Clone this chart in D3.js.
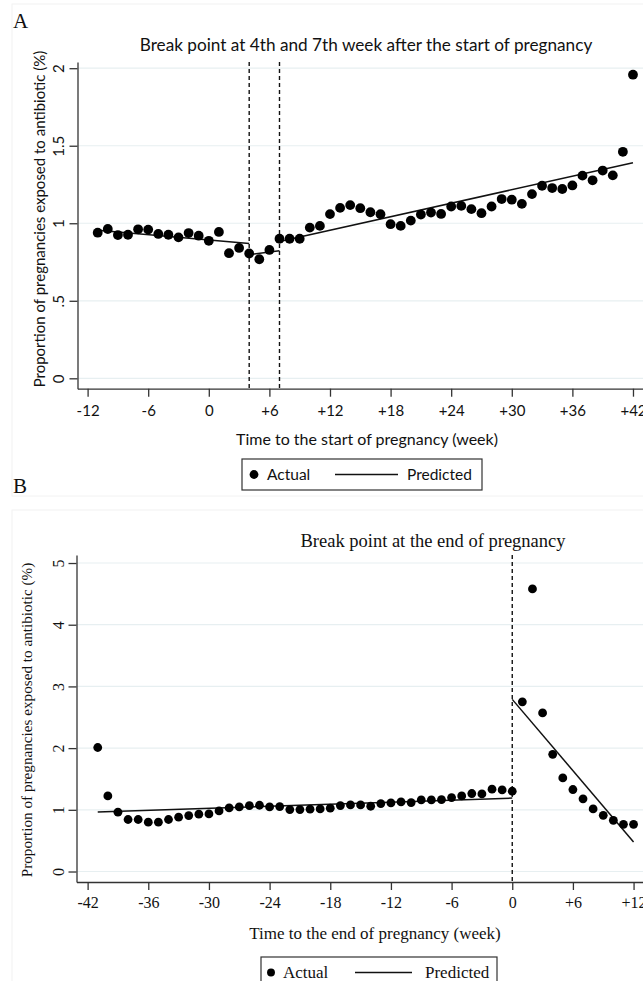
<!DOCTYPE html>
<html><head><meta charset="utf-8">
<script src="https://cdn.jsdelivr.net/npm/d3@7"></script>
<style>body{margin:0;background:#fff}svg{display:block}</style>
</head><body>
<svg id="c" width="643" height="981"></svg>
<script>
// ---------- Panel A data ----------
const weeksA = [-11,-10,-9,-8,-7,-6,-5,-4,-3,-2,-1,0,1,2,3,4,5,6,7,8,9,10,11,12,13,14,15,16,17,18,19,20,21,22,23,24,25,26,27,28,29,30,31,32,33,34,35,36,37,38,39,40,41,42];
const actualA = [0.939,0.963,0.924,0.926,0.961,0.959,0.931,0.926,0.909,0.937,0.920,0.887,0.944,0.807,0.841,0.805,0.768,0.828,0.900,0.900,0.900,0.972,0.983,1.059,1.099,1.117,1.097,1.071,1.058,0.994,0.983,1.017,1.056,1.069,1.060,1.108,1.112,1.091,1.065,1.108,1.156,1.152,1.125,1.188,1.242,1.227,1.221,1.244,1.307,1.277,1.340,1.309,1.461,1.958];
const predA = [
  [[-11,0.955],[4,0.870]],
  [[4,0.797],[7,0.823]],
  [[7,0.883],[42,1.39]]
];
const breaksA = [4,7];
const xTicksA = [-12,-6,0,6,12,18,24,30,36,42];
const yTicksA = [0,0.5,1,1.5,2];
const yTickLabelsA = ["0",".5","1","1.5","2"];

// ---------- Panel B data ----------
const weeksB = [-41,-40,-39,-38,-37,-36,-35,-34,-33,-32,-31,-30,-29,-28,-27,-26,-25,-24,-23,-22,-21,-20,-19,-18,-17,-16,-15,-14,-13,-12,-11,-10,-9,-8,-7,-6,-5,-4,-3,-2,-1,0,1,2,3,4,5,6,7,8,9,10,11,12];
const actualB = [2.01,1.225,0.961,0.843,0.843,0.799,0.799,0.843,0.880,0.907,0.929,0.934,0.982,1.031,1.047,1.069,1.074,1.047,1.053,1.004,1.004,1.010,1.015,1.026,1.069,1.080,1.080,1.058,1.101,1.112,1.128,1.117,1.160,1.160,1.166,1.199,1.225,1.264,1.258,1.334,1.323,1.301,2.75,4.58,2.57,1.90,1.517,1.329,1.178,1.015,0.91,0.83,0.765,0.765];
const predB = [
  [[-41,0.965],[0,1.19]],
  [[0,2.79],[12,0.48]]
];
const breaksB = [0];
const xTicksB = [-42,-36,-30,-24,-18,-12,-6,0,6,12];
const yTicksB = [0,1,2,3,4,5];

const svg = d3.select("#c");
const fmtX = d => d > 0 ? "+" + d : String(d);

function panel(cfg) {
  const g = svg.append("g");
  // faint graph-region outline
  g.append("rect").attr("x", 12).attr("y", cfg.regionTop).attr("width", 700).attr("height", cfg.regionH)
    .attr("fill", "none").attr("stroke", "#f2f2f2");
  const x = d3.scaleLinear().domain(cfg.xDom).range(cfg.xRange);
  const y = d3.scaleLinear().domain(cfg.yDom).range(cfg.yRange);
  // gridlines
  g.append("g").selectAll("line").data(cfg.yTicks).join("line")
    .attr("x1", cfg.xRange[0]).attr("x2", 660)
    .attr("y1", d => y(d)).attr("y2", d => y(d))
    .attr("stroke", "#e7eff1").attr("stroke-width", 1.2);
  // break lines
  g.append("g").selectAll("line").data(cfg.breaks).join("line")
    .attr("x1", d => x(d)).attr("x2", d => x(d))
    .attr("y1", cfg.yRange[1]).attr("y2", cfg.yRange[0])
    .attr("stroke", "#111").attr("stroke-width", 1.4).attr("stroke-dasharray", "4,3");
  // axes
  const ax = g.append("g").attr("transform", `translate(0,${cfg.yRange[0]})`)
    .call(d3.axisBottom(x).tickValues(cfg.xTicks).tickFormat(fmtX).tickSize(8).tickSizeOuter(0));
  const ay = g.append("g").attr("transform", `translate(${cfg.xRange[0]},0)`)
    .call(d3.axisLeft(y).tickValues(cfg.yTicks).tickFormat((d,i) => cfg.yLabels[i]).tickSize(8).tickSizeOuter(0));
  [ax, ay].forEach(a => {
    a.select(".domain").attr("stroke", "#333").attr("stroke-width", 1.3);
    a.selectAll(".tick line").attr("stroke", "#333").attr("stroke-width", 1.3);
    a.selectAll("text").attr("fill", "#111").style("font-family", cfg.font).style("font-size", cfg.tickFs + "px");
  });
  ax.selectAll("text").attr("dy", null).attr("y", cfg.xLabelDy);
  ay.selectAll("text").attr("x", null).attr("dy", null)
    .attr("text-anchor", "middle")
    .attr("transform", d => `translate(${cfg.yLabelX - cfg.xRange[0]},0) rotate(-90)`);
  // predicted lines
  const line = d3.line().x(d => x(d[0])).y(d => y(d[1]));
  g.append("g").selectAll("path").data(cfg.pred).join("path")
    .attr("d", line).attr("fill", "none").attr("stroke", "#111").attr("stroke-width", 1.5);
  // actual points
  g.append("g").selectAll("circle").data(cfg.weeks.map((w, i) => [w, cfg.actual[i]])).join("circle")
    .attr("cx", d => x(d[0])).attr("cy", d => y(d[1])).attr("r", cfg.r).attr("fill", "#000");
  // titles
  g.append("text").attr("x", cfg.titleX).attr("y", cfg.titleY).attr("text-anchor", "middle")
    .style("font-family", cfg.font).style("font-size", cfg.titleFs + "px").attr("fill", "#111").text(cfg.title);
  g.append("text").attr("x", cfg.xTitleX).attr("y", cfg.xTitleY).attr("text-anchor", "middle")
    .style("font-family", cfg.font).style("font-size", cfg.axTitleFs + "px").attr("fill", "#111").text(cfg.xTitle);
  g.append("text").attr("transform", `translate(${cfg.yTitleX},${cfg.yTitleY}) rotate(-90)`).attr("text-anchor", "middle")
    .style("font-family", cfg.font).style("font-size", cfg.yTitleFs + "px").attr("fill", "#111").text(cfg.yTitle);
  // panel letter
  g.append("text").attr("x", cfg.letterX).attr("y", cfg.letterY)
    .style("font-family", "Liberation Serif, serif").style("font-size", "21px").attr("fill", "#111").text(cfg.letter);
  // legend
  const L = cfg.legend;
  const lg = g.append("g");
  lg.append("rect").attr("x", L.x).attr("y", L.y).attr("width", L.w).attr("height", L.h)
    .attr("fill", "#fff").attr("stroke", "#333").attr("stroke-width", 1.2);
  const cy = L.y + L.h / 2;
  lg.append("circle").attr("cx", L.dotX).attr("cy", cy).attr("r", cfg.r * 0.9).attr("fill", "#000");
  lg.append("text").attr("x", L.t1).attr("y", cy + L.tdy).style("font-family", cfg.font).style("font-size", L.fs + "px").attr("fill", "#111").text("Actual");
  lg.append("line").attr("x1", L.l1).attr("x2", L.l2).attr("y1", cy).attr("y2", cy).attr("stroke", "#111").attr("stroke-width", 1.5);
  lg.append("text").attr("x", L.t2).attr("y", cy + L.tdy).style("font-family", cfg.font).style("font-size", L.fs + "px").attr("fill", "#111").text("Predicted");
}

panel({
  regionTop: 4, regionH: 492,
  xDom: [-13, 44.2], xRange: [77.5, 655.2],
  yDom: [-0.067, 2.04], yRange: [388.7, 62],
  xTicks: xTicksA, yTicks: yTicksA, yLabels: yTickLabelsA,
  breaks: breaksA, pred: predA, weeks: weeksA, actual: actualA, r: 4.9,
  font: "Lato, 'Open Sans', sans-serif", tickFs: 15, xLabelDy: 27, yLabelX: 64,
  title: "Break point at 4th and 7th week after the start of pregnancy", titleX: 366, titleY: 51, titleFs: 17.2,
  xTitle: "Time to the start of pregnancy (week)", xTitleX: 367, xTitleY: 445, axTitleFs: 16, yTitleFs: 15,
  yTitle: "Proportion of pregnancies exposed to antibiotic (%)", yTitleX: 45, yTitleY: 219,
  letter: "A", letterX: 13, letterY: 28,
  legend: {x: 242, y: 459, w: 240, h: 31, dotX: 254, t1: 267, l1: 335, l2: 398, t2: 407, tdy: 5.5, fs: 15.5}
});

panel({
  regionTop: 510, regionH: 500,
  xDom: [-43.1, 14.1], xRange: [76.5, 654.8],
  yDom: [-0.17, 5.13], yRange: [882, 555],
  xTicks: xTicksB, yTicks: yTicksB, yLabels: yTicksB.map(String),
  breaks: breaksB, pred: predB, weeks: weeksB, actual: actualB, r: 4.4,
  font: "'Liberation Serif', 'DejaVu Serif', serif", tickFs: 16, xLabelDy: 26, yLabelX: 64,
  title: "Break point at the end of pregnancy", titleX: 433, titleY: 547, titleFs: 18.5,
  xTitle: "Time to the end of pregnancy (week)", xTitleX: 375, xTitleY: 939, axTitleFs: 17, yTitleFs: 15.2,
  yTitle: "Proportion of pregnancies exposed to antibiotic (%)", yTitleX: 32, yTitleY: 720,
  letter: "B", letterX: 13, letterY: 493,
  legend: {x: 261, y: 957, w: 236, h: 31, dotX: 271, t1: 283, l1: 355, l2: 412, t2: 425, tdy: 5.5, fs: 17}
});
</script>
</body></html>
